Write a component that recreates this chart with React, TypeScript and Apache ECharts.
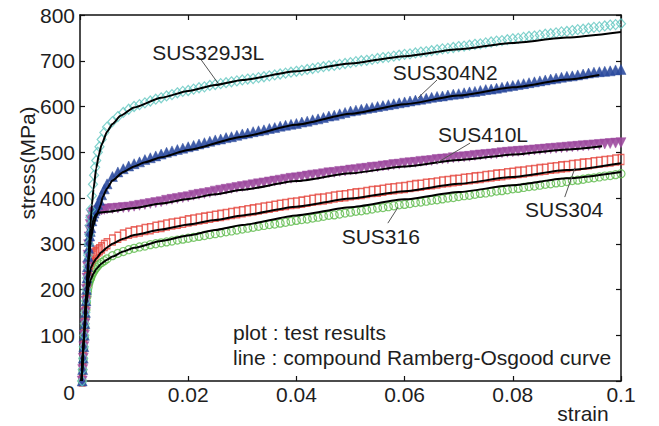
import React, { useEffect, useRef } from "react";
import * as echarts from "echarts";

const FONT = '"Liberation Sans", Arial, Helvetica, sans-serif';
const TEXT = "#1e1e1e";

// shared strain grid of the test-result markers
const strain = [
  0.0004, 0.0005, 0.0006, 0.0007, 0.0008, 0.0009, 0.001, 0.0011, 0.0012, 0.0013,
  0.0014, 0.0015, 0.0016, 0.0017, 0.0018, 0.0019, 0.002, 0.0022, 0.0024, 0.0026,
  0.0028, 0.003, 0.0033, 0.0036, 0.004, 0.0045, 0.005,
  0.006, 0.007, 0.008, 0.009, 0.01, 0.011, 0.012, 0.013, 0.014, 0.015,
  0.016, 0.017, 0.018, 0.019, 0.02, 0.021, 0.022, 0.023, 0.024, 0.025,
  0.026, 0.027, 0.028, 0.029, 0.03, 0.031, 0.032, 0.033, 0.034, 0.035,
  0.036, 0.037, 0.038, 0.039, 0.04, 0.041, 0.042, 0.043, 0.044, 0.045,
  0.046, 0.047, 0.048, 0.049, 0.05, 0.051, 0.052, 0.053, 0.054, 0.055,
  0.056, 0.057, 0.058, 0.059, 0.06, 0.061, 0.062, 0.063, 0.064, 0.065,
  0.066, 0.067, 0.068, 0.069, 0.07, 0.071, 0.072, 0.073, 0.074, 0.075,
  0.076, 0.077, 0.078, 0.079, 0.08, 0.081, 0.082, 0.083, 0.084, 0.085,
  0.086, 0.087, 0.088, 0.089, 0.09, 0.091, 0.092, 0.093, 0.094, 0.095,
  0.096, 0.097, 0.098, 0.099, 0.1,
];

// test results (stress, MPa)
const sus329j3l = [
  0, 25, 50, 75, 100, 125, 150, 175, 200, 225, 250, 275, 300, 320, 340, 358, 375, 405, 430, 450,
  467, 482, 500, 512, 528, 543, 555,
  567, 578, 587, 594, 600, 604, 608, 612, 616, 619,
  623, 626, 630, 633, 635, 638, 641, 643, 646, 648,
  650, 652, 654, 656, 658, 660, 661, 663, 665, 667,
  669, 671, 673, 675, 677, 679, 681, 683, 685, 687,
  689, 690, 692, 694, 696, 698, 700, 701, 703, 705,
  707, 708, 710, 712, 714, 715, 717, 719, 720, 722,
  724, 726, 727, 729, 731, 732, 734, 736, 737, 739,
  741, 743, 744, 746, 748, 749, 751, 753, 754, 756,
  758, 759, 761, 763, 764, 766, 768, 769, 771, 773,
  774, 776, 778, 779, 781,
];
const sus304n2 = [
  0, 25, 50, 75, 100, 125, 150, 175, 200, 225, 250, 272, 290, 305, 317, 327, 335, 350, 360, 367,
  373, 378, 386, 395, 407, 420, 431,
  447, 457, 464, 470, 475, 479, 484, 488, 492, 496,
  500, 503, 506, 509, 512, 515, 518, 521, 524, 527,
  529, 532, 534, 537, 540, 542, 545, 547, 549, 552,
  554, 557, 559, 561, 563, 566, 568, 571, 573, 576,
  579, 581, 584, 587, 590, 592, 594, 596, 598, 600,
  602, 604, 606, 608, 610, 612, 614, 616, 618, 620,
  622, 623, 625, 627, 628, 630, 632, 633, 635, 637,
  638, 640, 642, 644, 646, 648, 650, 652, 654, 656,
  658, 660, 662, 664, 666, 667, 669, 671, 673, 675,
  676, 677, 678, 680, 681,
];
const sus410l = [
  0, 25, 50, 75, 100, 125, 150, 175, 200, 225, 250, 275, 298, 315, 330, 342, 352, 362, 367, 369,
  370, 371, 372, 373, 374, 375, 376,
  377, 378, 379, 380, 382, 384, 386, 388, 390, 392,
  395, 397, 399, 401, 403, 406, 408, 410, 412, 415,
  417, 419, 421, 423, 425, 427, 429, 431, 433, 435,
  437, 439, 441, 443, 444, 446, 448, 450, 451, 453,
  455, 456, 458, 459, 461, 462, 464, 465, 467, 468,
  470, 471, 473, 474, 476, 477, 478, 480, 481, 482,
  484, 485, 486, 488, 489, 490, 491, 493, 494, 495,
  496, 497, 499, 500, 501, 502, 503, 504, 505, 506,
  507, 508, 509, 510, 511, 512, 513, 514, 515, 516,
  517, 518, 519, 520, 521,
];
const sus304 = [
  0, 25, 50, 75, 100, 125, 150, 175, 198, 215, 228, 238, 246, 252, 257, 261, 264, 269, 273, 276,
  279, 281, 284, 287, 291, 296, 300,
  308, 314, 319, 323, 326, 328, 331, 333, 336, 338,
  341, 343, 345, 347, 350, 352, 354, 356, 358, 360,
  362, 364, 366, 368, 370, 372, 374, 376, 378, 380,
  382, 384, 386, 388, 389, 391, 393, 395, 397, 398,
  400, 402, 404, 405, 407, 409, 410, 412, 414, 415,
  417, 419, 420, 422, 423, 425, 427, 428, 430, 431,
  433, 435, 436, 438, 439, 441, 442, 444, 445, 447,
  448, 450, 451, 453, 454, 456, 457, 459, 460, 462,
  463, 465, 466, 468, 469, 471, 472, 474, 475, 477,
  478, 480, 481, 483, 484,
];
const sus316 = [
  0, 24, 48, 72, 96, 118, 138, 156, 172, 185, 196, 205, 212, 217, 221, 224, 226, 232, 237, 241,
  245, 248, 252, 256, 259, 263, 267,
  274, 279, 283, 287, 290, 293, 295, 298, 300, 302,
  304, 306, 308, 310, 312, 314, 316, 318, 320, 322,
  324, 326, 328, 330, 332, 334, 336, 338, 340, 342,
  343, 345, 347, 349, 351, 353, 354, 356, 358, 360,
  362, 363, 365, 367, 369, 371, 372, 374, 376, 378,
  379, 381, 383, 385, 386, 388, 390, 391, 393, 395,
  396, 398, 400, 401, 403, 405, 406, 408, 410, 411,
  413, 415, 416, 418, 420, 421, 423, 425, 426, 428,
  430, 431, 433, 434, 436, 438, 439, 441, 443, 444,
  446, 448, 449, 451, 453,
];

// compound Ramberg-Osgood curves
const fitStrain329 = [0.0003, 0.0008, 0.0012, 0.0016, 0.0019, 0.0022, 0.0025, 0.003, 0.0035, 0.004, 0.005, 0.006, 0.0075, 0.01, 0.015, 0.02, 0.025, 0.03, 0.04, 0.05, 0.06, 0.07, 0.08, 0.09, 0.1];
const fitStress329 = [0, 115, 200, 280, 335, 385, 420, 465, 495, 517, 545, 562, 580, 598, 619, 634, 647, 658, 677, 694, 710, 725, 739, 751, 763];
const fitStrain304n2 = [0.0003, 0.0008, 0.0012, 0.0016, 0.002, 0.0025, 0.003, 0.0035, 0.0038, 0.0042, 0.005, 0.006, 0.008, 0.01, 0.012, 0.015, 0.02, 0.03, 0.04, 0.05, 0.06, 0.07, 0.08, 0.09, 0.096];
const fitStress304n2 = [0, 110, 190, 260, 310, 340, 360, 375, 384, 402, 421, 438, 457, 469, 478, 489, 505, 534, 560, 584, 605, 624, 642, 659, 669];
const fitStrain410 = [0.0003, 0.0008, 0.0012, 0.0016, 0.002, 0.0025, 0.003, 0.0035, 0.005, 0.01, 0.015, 0.02, 0.025, 0.03, 0.04, 0.05, 0.06, 0.07, 0.08, 0.09, 0.0965];
const fitStress410 = [0, 110, 190, 265, 320, 355, 365, 368, 370, 378, 388, 398, 408, 418, 437, 454, 469, 483, 495, 506, 513];
const fitStrain304 = [0.0003, 0.0008, 0.0012, 0.0016, 0.002, 0.0025, 0.003, 0.004, 0.005, 0.006, 0.008, 0.01, 0.015, 0.02, 0.025, 0.03, 0.04, 0.05, 0.06, 0.07, 0.08, 0.09, 0.1];
const fitStress304 = [0, 105, 180, 225, 247, 259, 268, 282, 292, 300, 311, 319, 331, 342, 352, 362, 381, 399, 415, 431, 446, 461, 476];
const fitStrain316 = [0.0003, 0.0008, 0.0012, 0.0016, 0.002, 0.0025, 0.003, 0.004, 0.005, 0.006, 0.008, 0.01, 0.015, 0.02, 0.025, 0.03, 0.04, 0.05, 0.06, 0.07, 0.08, 0.09, 0.1];
const fitStress316 = [0, 100, 170, 205, 222, 235, 245, 257, 265, 272, 283, 291, 306, 318, 330, 341, 362, 380, 397, 413, 428, 443, 457];

// curve labels and their leader lines (data coordinates)
const labelNames = ["SUS329J3L", "SUS304N2", "SUS410L", "SUS304", "SUS316"];
const labelAt = [[0.0237, 717], [0.0675, 675], [0.0745, 538], [0.0895, 374], [0.0556, 315]];
const leaderFrom = [[0.0224, 702], [0.066, 658], [0.0721, 520], [0.0896, 402], [0.0569, 345]];
const leaderTo = [[0.0255, 651], [0.0625, 619], [0.066, 477], [0.0915, 466], [0.0588, 380]];

const xTicks = { min: 0, max: 0.1, interval: 0.02 };
const yTicks = { min: 0, max: 800, interval: 100 };

export default function App() {
  const ref = useRef<HTMLDivElement>(null);

  useEffect(() => {
    const chart = echarts.init(ref.current as HTMLDivElement, null, { renderer: "svg" });
    const pair = (xs: number[], ys: number[]) => xs.map((x, i) => [x, ys[i]]);

    const markers = [
      { name: "SUS316", data: sus316, color: "#5cba4a", symbol: "circle", size: 8, rotate: 0, filled: false },
      { name: "SUS304", data: sus304, color: "#e5453c", symbol: "rect", size: [6, 10], rotate: 0, filled: false },
      { name: "SUS410L", data: sus410l, color: "#9d4a9f", symbol: "triangle", size: 10, rotate: 180, filled: true },
      { name: "SUS304N2", data: sus304n2, color: "#2c4b9e", symbol: "triangle", size: 10, rotate: 0, filled: true },
      { name: "SUS329J3L", data: sus329j3l, color: "#62c7c1", symbol: "diamond", size: [9, 10], rotate: 0, filled: false },
    ];
    const fits = [
      [fitStrain316, fitStress316],
      [fitStrain304, fitStress304],
      [fitStrain410, fitStress410],
      [fitStrain304n2, fitStress304n2],
      [fitStrain329, fitStress329],
    ];

    const axisCommon = {
      axisLine: { show: true, onZero: false, lineStyle: { color: "#111", width: 1.5 } },
      axisTick: { show: true, inside: true, length: 5, lineStyle: { color: "#111", width: 1.2 } },
      splitLine: { show: false },
    };

    const option: any = {
      animation: false,
      backgroundColor: "#ffffff",
      grid: { left: 80, right: 38, top: 15, bottom: 45, containLabel: false, outerBoundsMode: "none" },
      xAxis: [
        {
          type: "value", position: "bottom", ...xTicks, ...axisCommon,
          axisLabel: {
            margin: 3, fontSize: 21, fontFamily: FONT, color: TEXT,
            formatter: (v: number) => (v === 0 ? "" : String(Number(v.toFixed(2)))),
          },
        },
        { type: "value", position: "top", ...xTicks, ...axisCommon, axisLabel: { show: false } },
      ],
      yAxis: [
        {
          type: "value", position: "left", ...yTicks, ...axisCommon,
          axisLabel: {
            margin: 5, fontSize: 21, fontFamily: FONT, color: TEXT,
            formatter: (v: number) => (v === 0 ? "" : String(v)),
          },
        },
        { type: "value", position: "right", ...yTicks, ...axisCommon, axisLabel: { show: false } },
      ],
      series: [
        ...markers.map((m) => ({
          name: m.name,
          type: "scatter",
          data: pair(strain, m.data),
          symbol: m.symbol,
          symbolSize: m.size,
          symbolRotate: m.rotate,
          itemStyle: m.filled
            ? { color: m.color, opacity: 0.9, borderColor: m.color, borderWidth: 0.5 }
            : { color: "rgba(0,0,0,0)", borderColor: m.color, borderWidth: 1.2 },
          emphasis: { disabled: true },
        })),
        ...fits.map(([xs, ys], i) => ({
          name: "fit" + i,
          type: "line",
          data: pair(xs, ys),
          showSymbol: false,
          symbol: "none",
          smooth: 0.2,
          smoothMonotone: "x",
          lineStyle: { color: "#000", width: 2 },
          emphasis: { disabled: true },
        })),
      ],
    };
    chart.setOption(option);

    const toPx = (p: number[]) => chart.convertToPixel({ gridIndex: 0 }, p) as number[];
    const textStyle = { fontSize: 21, fontFamily: FONT, fill: TEXT };
    const graphics: any[] = [];
    labelNames.forEach((name, i) => {
      const a = toPx(leaderFrom[i]);
      const b = toPx(leaderTo[i]);
      graphics.push({
        type: "line",
        shape: { x1: a[0], y1: a[1], x2: b[0], y2: b[1] },
        style: { stroke: "#555", lineWidth: 1 },
        z: 20,
      });
      const c = toPx(labelAt[i]);
      graphics.push({
        type: "text", x: c[0], y: c[1], z: 21,
        style: { ...textStyle, text: name, align: "center", verticalAlign: "middle" },
      });
    });
    graphics.push(
      { type: "text", x: 69, y: 392, style: { ...textStyle, text: "0", align: "center", verticalAlign: "middle" } },
      { type: "text", x: 583, y: 413, style: { ...textStyle, text: "strain", align: "center", verticalAlign: "middle" } },
      { type: "text", x: 27, y: 163, rotation: Math.PI / 2, style: { ...textStyle, text: "stress(MPa)", align: "center", verticalAlign: "middle" } },
      { type: "text", x: 233, y: 332, style: { ...textStyle, text: "plot : test results", align: "left", verticalAlign: "middle" } },
      { type: "text", x: 233, y: 357, style: { ...textStyle, text: "line : compound Ramberg-Osgood curve", align: "left", verticalAlign: "middle" } },
    );
    chart.setOption({ graphic: graphics });

    return () => chart.dispose();
  }, []);

  return <div ref={ref} style={{ position: "fixed", left: 0, top: 0, width: 659, height: 426 }} />;
}
